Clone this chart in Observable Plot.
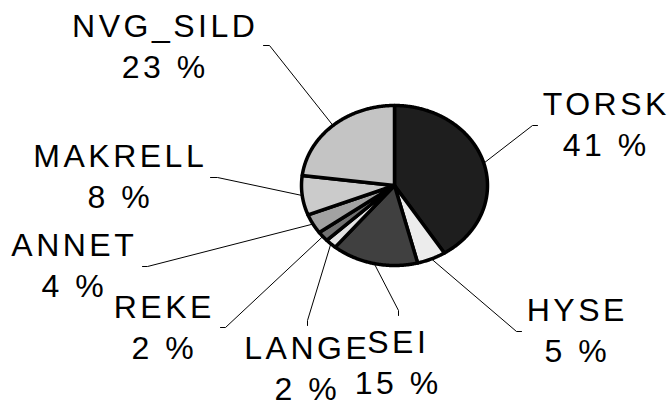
<!DOCTYPE html>
<html><head><meta charset="utf-8">
<script src="https://cdn.jsdelivr.net/npm/d3@7"></script>
<script src="https://cdn.jsdelivr.net/npm/@observablehq/plot@0.6"></script>
<style>body{margin:0;background:#fff}</style>
</head><body><div id="chart"></div>
<script>
const categories = ["TORSK","HYSE","SEI","LANGE","REKE","ANNET","MAKRELL","NVG_SILD"];
const shares = [41,5,15,2,2,4,8,23];
const sliceColors = ["#1e1e1e","#ececec","#404040","#e2e2e2","#707070","#a2a2a2","#cbcbcb","#c4c4c4"];
// label layout (pixels): centre x and baseline of the percentage line
const labelAnchor = [[604,155],[575,361],[396,393],[305,399],[162,358],[72,296],[118,207],[163,77]];
const leaderElbow = [[532,125],[516,331],[398,310],[307,320],[225,327],[147,266],[217,177],[269,45]];
const leaderEnd   = [[537,125],[521,331],[398,315],[307,325],[220,327],[142,266],[210,177],[263,45]];

const W = 672, H = 406, CX = 394, CY = 185, RX = 93, RY = 80;
const toX = px => (px - CX) / RX, toY = py => (CY - py) / RY;

const rows = categories.map((name, i) => ({name, share: shares[i]}));
const arcs = d3.pie().sort(null).value(d => d.share)(rows);

const slicePts = [];
const leaderPts = [];
arcs.forEach((a, i) => {
  const name = a.data.name;
  slicePts.push({name, x: 0, y: 0});
  const n = Math.max(2, Math.ceil((a.endAngle - a.startAngle) / (Math.PI / 360)));
  for (let k = 0; k <= n; k++) {
    const t = a.startAngle + (a.endAngle - a.startAngle) * k / n;
    slicePts.push({name, x: Math.sin(t), y: Math.cos(t)});
  }
  slicePts.push({name, x: 0, y: 0});
  const m = (a.startAngle + a.endAngle) / 2;
  leaderPts.push({name, x: Math.sin(m), y: Math.cos(m)});
  leaderPts.push({name, x: toX(leaderElbow[i][0]), y: toY(leaderElbow[i][1])});
  leaderPts.push({name, x: toX(leaderEnd[i][0]), y: toY(leaderEnd[i][1])});
});

const chart = Plot.plot({
  width: W, height: H, margin: 0,
  x: {domain: [-1, 1], range: [CX - RX, CX + RX], axis: null},
  y: {domain: [-1, 1], range: [CY + RY, CY - RY], axis: null},
  color: {domain: categories, range: sliceColors},
  style: {fontFamily: "'Liberation Sans', Arial, sans-serif", letterSpacing: "3.5px", background: "white", overflow: "visible"},
  marks: [
    Plot.line(leaderPts, {x: "x", y: "y", z: "name", stroke: "black", strokeWidth: 1}),
    Plot.line(slicePts, {x: "x", y: "y", z: "name", fill: "name", stroke: "black", strokeWidth: 3.5, strokeLinejoin: "round"}),
    Plot.text(rows, {
      x: (d, i) => toX(labelAnchor[i][0]),
      y: (d, i) => toY(labelAnchor[i][1]),
      text: d => `${d.name}\n${d.share} %`,
      lineAnchor: "bottom", lineHeight: 1.28,
      fontSize: 32, textAnchor: "middle", fill: "black", dx: 1.75
    })
  ]
});
document.getElementById("chart").appendChild(chart);
</script>
</body></html>
